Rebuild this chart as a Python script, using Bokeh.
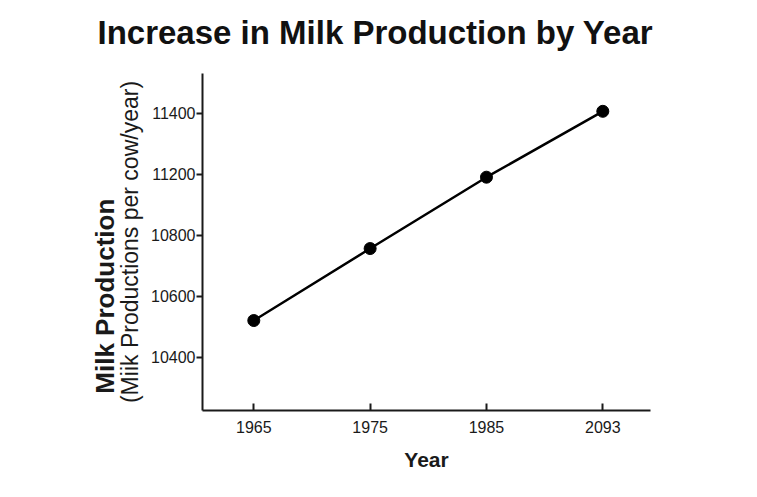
from bokeh.plotting import figure
from bokeh.models import Range1d, FixedTicker, LinearAxis
from bokeh.embed import file_html
from bokeh.resources import INLINE

years = ["1965", "1975", "1985", "2093"]
production = [10520, 10756, 10990, 11206]  # on the axis' evenly spaced scale
y_tick_values = [10400, 10600, 10800, 11000, 11200]
y_tick_labels = ["10400", "10600", "10800", "11200", "11400"]

title_text = "Increase in Milk Production by Year"
x_label = "Year"
y_label_1 = "Milk Production"
y_label_2 = "(Miik Productions per cow/year)"

x_idx = list(range(len(years)))
ink = "#1a1a1a"

p = figure(width=740, height=480, output_backend="svg", toolbar_location=None,
           x_range=Range1d(-0.441, 3.41), y_range=Range1d(10225, 11330),
           min_border_left=202, min_border_right=90, min_border_top=73, min_border_bottom=70)

xa = p.below[0]
ya = p.left[0]

p.title.text = title_text
p.title.align = "left"
p.title.offset = -105
p.title.standoff = 2
p.title.text_font = "Liberation Sans"
p.title.text_font_style = "bold"
p.title.text_font_size = "33px"
p.title.text_color = "#111111"

p.outline_line_color = None
p.grid.visible = False
p.background_fill_color = "white"
p.border_fill_color = "white"

# x axis
xa.ticker = FixedTicker(ticks=x_idx)
xa.major_label_overrides = {i: y for i, y in zip(x_idx, years)}
xa.major_tick_in = 7
xa.major_tick_out = 0
xa.minor_tick_line_color = None
xa.axis_line_width = 2
xa.axis_line_color = ink
xa.major_tick_line_width = 2
xa.major_tick_line_color = ink
xa.major_label_text_font = "Liberation Sans"
xa.major_label_text_font_size = "16px"
xa.major_label_text_color = ink
xa.major_label_standoff = 10
xa.axis_label = x_label
xa.axis_label_text_font = "Liberation Sans"
xa.axis_label_text_font_style = "bold"
xa.axis_label_text_font_size = "21px"
xa.axis_label_text_color = ink
xa.axis_label_standoff = 12

# y axis
ya.ticker = FixedTicker(ticks=y_tick_values)
ya.major_label_overrides = {v: t for v, t in zip(y_tick_values, y_tick_labels)}
ya.major_tick_in = 0
ya.major_tick_out = 6
ya.minor_tick_line_color = None
ya.axis_line_width = 2
ya.axis_line_color = ink
ya.major_tick_line_width = 2
ya.major_tick_line_color = ink
ya.major_label_text_font = "Liberation Sans"
ya.major_label_text_font_size = "16px"
ya.major_label_text_color = ink
ya.major_label_standoff = 1
ya.axis_label = y_label_2
ya.axis_label_text_font = "Liberation Sans"
ya.axis_label_text_font_style = "normal"
ya.axis_label_text_font_size = "23px"
ya.axis_label_text_color = ink
ya.axis_label_standoff = 5

# invisible spacer between the title and the plot area
spacer = LinearAxis(ticker=FixedTicker(ticks=[]), axis_line_color=None,
                    major_tick_line_color=None, minor_tick_line_color=None,
                    major_tick_in=0, major_tick_out=0, major_label_standoff=0,
                    major_label_text_font_size="0px",
                    axis_label="\u00a0", axis_label_text_font_size="10px",
                    axis_label_text_color="white", axis_label_standoff=8)
p.add_layout(spacer, "above")

# outer line of the y label (bold), shifted toward the bottom like the reference
ya2 = LinearAxis(ticker=FixedTicker(ticks=[]), axis_line_color=None,
                 major_tick_line_color=None, minor_tick_line_color=None,
                 major_label_text_font_size="0px",
                 axis_label=y_label_1 + "\u00a0" * 15,
                 axis_label_text_font="Liberation Sans",
                 axis_label_text_font_style="bold",
                 axis_label_text_font_size="26px",
                 axis_label_text_color=ink,
                 axis_label_standoff=-5)
p.add_layout(ya2, "left")

# data
p.line(x_idx, production, line_color="black", line_width=2.5)
p.scatter(x_idx, production, size=12, fill_color="black", line_color="black")

open("out.html", "w").write(file_html(p, INLINE))
